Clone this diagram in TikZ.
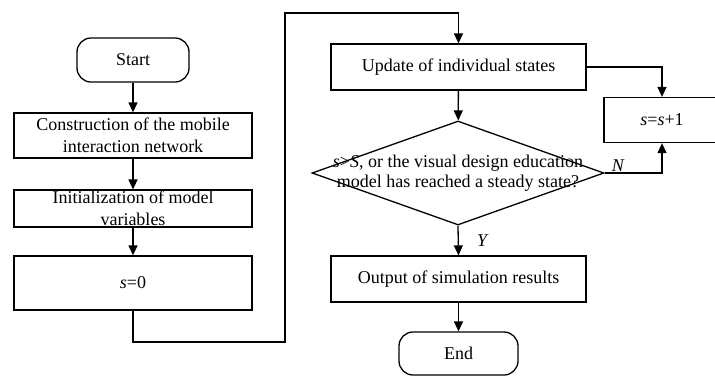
\documentclass[tikz,border=0pt]{standalone}
\usepackage{fontspec}
\setmainfont{Liberation Serif}
\usetikzlibrary{arrows.meta,shapes.geometric}

\begin{document}
\begin{tikzpicture}[x=1pt, y=-1pt, line width=1.3pt,
    font=\fontsize{18}{22}\selectfont,
    flowbox/.style={draw, rectangle, align=center, inner sep=1pt},
    termbox/.style={draw, rectangle, rounded corners=14pt, align=center},
    arrow/.style={-{Triangle[length=10pt, width=9pt]}}]
      \useasboundingbox (0,0) rectangle (715,376);

      % left column
      \node[termbox, minimum width=112pt, minimum height=44pt] (start) at (133,60) {Start};
      \node[flowbox, minimum width=238pt, minimum height=45pt] (build) at (133,135.5)
        {Construction of the mobile\\interaction network};
      \node[flowbox, minimum width=238pt, minimum height=35pt] (init) at (133,208.5)
        {Initialization of model\\variables};
      \node[flowbox, minimum width=238pt, minimum height=54pt] (szero) at (133,283) {\textit{s}=0};

      % right column
      \node[flowbox, minimum width=255pt, minimum height=46pt] (upd) at (458.5,67) {Update of individual states};
      \node[draw, diamond, minimum width=292pt, minimum height=104pt, inner sep=0pt] (check) at (458,173) {};
      \node[align=center, font=\fontsize{18}{20}\selectfont] (checktxt) at (458,173)
        {\textit{s}>\textit{S}, or the visual design education\\model has reached a steady state?};
      \node[flowbox, minimum width=116pt, minimum height=45pt] (inc) at (662,120) {\textit{s}=\textit{s}+1};
      \node[flowbox, minimum width=255pt, minimum height=46pt] (out) at (458.5,279) {Output of simulation results};
      \node[termbox, minimum width=119pt, minimum height=43pt] (fin) at (458.5,353.5) {End};

      \coordinate (jogbot) at (285,342);
      \coordinate (jogtop) at (285,13);

      \draw[arrow] (start) -- (build);
      \draw[arrow] (build) -- (init);
      \draw[arrow] (init) -- (szero);
      \draw[arrow] (szero.south) |- (jogbot) -- (jogtop) -| (upd.north);
      \draw[arrow] (upd) -- (check);
      \draw[arrow] (upd.east) -| (inc.north);
      \draw[arrow] (check.east) -| node[pos=0.12, above, inner sep=1pt] {\textit{N}} (inc.south);
      \draw[arrow] (check.south) -- node[right=15pt] {\textit{Y}} (out.north);
      \draw[arrow] (out) -- (fin);
    \end{tikzpicture}
\end{document}
